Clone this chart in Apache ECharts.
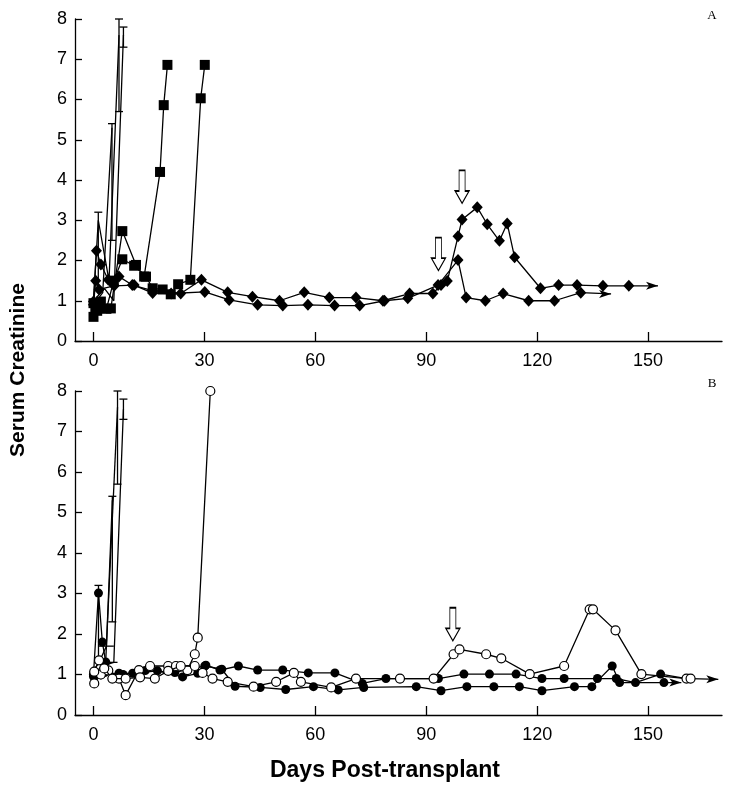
<!DOCTYPE html>
<html><head><meta charset="utf-8">
<script src="https://cdn.jsdelivr.net/npm/echarts@6/dist/echarts.min.js"></script>
<style>html,body{margin:0;padding:0;background:#fff}#c{width:732px;height:785px}</style>
</head><body><div id="c"></div>
<script>
// ---------- data (days, serum creatinine) ----------
const xTicks = [0, 30, 60, 90, 120, 150];
const yTicks = [0, 1, 2, 3, 4, 5, 6, 7, 8];

// Panel A
const sqA1 = [[0,0.6],[0.5,0.77],[2,0.98],[4.7,0.81],[7.8,2.73],[11.5,1.89],[13.7,1.6],[18,4.2],[19,5.86],[20,6.86]];
const sqA2 = [[0,0.94],[1,0.75],[3.5,0.8],[5.5,1.5],[7.8,2.03],[11,1.87],[14.2,1.6],[16,1.31],[18.7,1.28],[20.9,1.16],[22.9,1.41],[26.2,1.52],[29,6.03],[30.1,6.86]];
const dmA1 = [[0,0.98],[0.8,2.24],[2,1.9],[4,1.52],[6.9,1.6],[10.5,1.39],[16,1.25],[23.6,1.18],[29.2,1.52],[36.3,1.21],[43,1.1],[50.3,1.0],[57,1.21],[63.8,1.08],[71,1.08],[78.3,1.0],[85.5,1.18],[91.8,1.18],[94,1.39],[95.7,1.49],[98.6,2.6],[99.7,3.02],[103.8,3.32],[106.5,2.9],[109.8,2.49],[111.9,2.92],[113.9,2.08],[120.9,1.31],[125.8,1.39],[130.8,1.39],[137.8,1.37],[144.8,1.37]];
const dmA1End = [152.7,1.37];
const dmA2 = [[0,0.9],[0.6,1.5],[1.5,1.28],[5.6,1.37],[11,1.39],[16,1.19],[21,1.18],[30.1,1.22],[36.7,1.02],[44.4,0.9],[51.2,0.88],[58,0.9],[65.2,0.88],[72,0.88],[78.7,1.0],[85,1.06],[93.2,1.39],[98.6,2.01],[100.8,1.08],[106,1.0],[110.8,1.18],[117.7,1.0],[124.7,1.0],[131.8,1.2]];
const dmA2End = [140,1.17];
const rejA1 = [[0,1.0],[1.3,3.0],[4.2,1.5],[6.9,7.6]];
const rejA2 = [[0,0.9],[2.5,1.2],[5.0,5.3]];
const rejA3 = [[0,1.0],[3,1.3],[5.5,1.0],[8.1,7.6]];
const errA = [[1.3,1.3,3.2],[5.0,2.5,5.4],[6.9,5.7,8.0],[8.1,7.3,7.8]];
const arrowsA = [[99.7,3.83],[93.3,2.16]];

// Panel B
const rejB1 = [[0,1.0],[1.35,3.01],[2.4,1.8],[3.3,1.31]];
const rejB1Rise = [[3.3,1.31],[6.5,7.6]];
const rejB2 = [[0,1.1],[1.5,1.3],[3.5,1.7],[5.1,5.3]];
const rejB3 = [[0,0.95],[2,1.2],[5.5,1.3],[8.1,7.55]];
const errB = [[1.35,1.3,3.2],[5.1,2.3,5.4],[6.5,5.7,8.0],[8.1,7.3,7.8]];
const capsB = [[1.5,5.5,1.7],[1.5,6.5,1.3]];
const opB1 = [[0.2,1.07],[1.5,1.35],[2.9,1.15],[5.1,0.9],[8.7,0.9],[12.6,0.93],[16.6,0.9],[20.2,1.09],[23.6,1.21],[27.4,1.21],[29.5,1.04],[32.2,0.9],[36.3,0.82],[43.3,0.7],[49.4,0.82],[54.2,1.04],[56.1,0.82],[64.3,0.68],[71,0.9],[82.9,0.9],[92,0.9],[97.4,1.5],[99,1.62],[106.2,1.5],[110.3,1.4],[118,1.01],[127.3,1.21],[134.2,2.61],[135.1,2.61],[141.2,2.09],[148.2,1.01],[160.4,0.9],[161.5,0.9]];
const opB1End = [169,0.88];
const opB2 = [[0.2,0.78],[2,1.0],[4,1.1],[6.9,0.9],[8.7,0.49],[12.3,1.11],[15.3,1.21],[20.2,1.21],[22.3,1.21],[25.4,1.11],[27.4,1.5],[28.2,1.91],[31.6,8.0]];
const fB1 = [[0,0.95],[2,0.99],[6.9,1.03],[10.6,1.03],[17.3,1.09],[24.1,0.94],[28.2,1.03],[30.4,1.23],[34.2,1.11],[39.2,1.21],[44.4,1.11],[51.2,1.11],[58.1,1.04],[65.3,1.04],[72.7,0.78],[79.1,0.9],[93.3,0.9],[100.2,1.01],[107.1,1.01],[114.3,1.01],[121.3,0.9],[127.3,0.9],[136.3,0.9],[141.4,0.9],[146.6,0.8],[153.4,1.01],[160.4,0.9]];
const fB2 = [[0,1.0],[3,1.05],[8,1.0],[14,1.1],[22,1.05],[30.1,1.21],[34.7,1.13],[38.3,0.71],[45.1,0.68],[52,0.63],[59.5,0.7],[66.2,0.62],[73.1,0.68],[87.3,0.7],[94,0.6],[101,0.7],[108.3,0.7],[115.2,0.7],[121.3,0.6],[130.1,0.7],[134.8,0.7],[140.3,1.21],[142.3,0.8],[154.3,0.8]];
const fB2End = [159,0.8];
const arrowsB = [[97.2,2.24]];

// ---------- chart ----------
const FONT = '"Liberation Sans", Arial, Helvetica, sans-serif';
const LW = 1.3;
const ARROW = 'path://M0,0L12,4L0,8L3,4Z';
const DOWN = 'path://M4,0L10,0L10,20L14,20L7,32L0,20L4,20Z';

function withEnd(arr, end) {
  return arr.concat([{ value: end, symbol: ARROW, symbolSize: [12, 8], symbolOffset: [-6, 0],
    itemStyle: { color: '#000', borderWidth: 0 } }]);
}
function lineS(idx, data, symbol, size, fill) {
  return { type: 'line', xAxisIndex: idx, yAxisIndex: idx, data: data, symbol: symbol, symbolSize: size,
    showSymbol: true, animation: false, z: 3,
    lineStyle: { color: '#000', width: LW },
    itemStyle: { color: fill, borderColor: '#000', borderWidth: fill === '#fff' ? 1.2 : 0 } };
}
function plainLine(idx, data) {
  return { type: 'line', xAxisIndex: idx, yAxisIndex: idx, data: data, symbol: 'none', animation: false, z: 2,
    lineStyle: { color: '#000', width: LW } };
}
function errS(idx, data) {
  return { type: 'custom', xAxisIndex: idx, yAxisIndex: idx, data: data, animation: false, z: 2,
    encode: { x: 0, y: [1, 2] },
    renderItem: function (params, api) {
      const x = api.value(0);
      const lo = api.coord([x, api.value(1)]);
      const hi = api.coord([x, api.value(2)]);
      const w = 4;
      const st = { stroke: '#000', lineWidth: LW };
      return { type: 'group', children: [
        { type: 'line', shape: { x1: lo[0], y1: lo[1], x2: hi[0], y2: hi[1] }, style: st },
        { type: 'line', shape: { x1: hi[0] - w, y1: hi[1], x2: hi[0] + w, y2: hi[1] }, style: st },
        { type: 'line', shape: { x1: lo[0] - w, y1: lo[1], x2: lo[0] + w, y2: lo[1] }, style: st }
      ] };
    } };
}
function capS(idx, data) {
  return { type: 'custom', xAxisIndex: idx, yAxisIndex: idx, data: data, animation: false, z: 2,
    encode: { x: [0, 1], y: 2 },
    renderItem: function (params, api) {
      const a = api.coord([api.value(0), api.value(2)]);
      const b = api.coord([api.value(1), api.value(2)]);
      return { type: 'line', shape: { x1: a[0], y1: a[1], x2: b[0], y2: b[1] }, style: { stroke: '#000', lineWidth: LW } };
    } };
}
function markArrows(coords) {
  return { symbol: DOWN, symbolSize: [14, 33], animation: false, silent: true,
    itemStyle: { color: '#fff', borderColor: '#000', borderWidth: 1.2 }, label: { show: false },
    data: coords.map(c => ({ coord: c })) };
}
function xAx(idx) {
  return { type: 'value', gridIndex: idx, min: -5, max: 170,
    axisLine: { show: true, onZero: false, lineStyle: { color: '#000', width: LW } },
    axisTick: { show: true, inside: true, length: 9, customValues: xTicks, lineStyle: { color: '#000', width: LW } },
    axisLabel: { customValues: xTicks, color: '#000', fontSize: 18, fontFamily: FONT, margin: 11 },
    splitLine: { show: false } };
}
function yAx(idx) {
  return { type: 'value', gridIndex: idx, min: 0, max: 8, interval: 1,
    axisLine: { show: true, onZero: false, lineStyle: { color: '#000', width: LW } },
    axisTick: { show: true, inside: true, length: 7, lineStyle: { color: '#000', width: LW } },
    axisLabel: { color: '#000', fontSize: 18, fontFamily: FONT, margin: 8,
      formatter: v => (yTicks.indexOf(v) >= 0 ? String(v) : '') },
    splitLine: { show: false } };
}

const sA1 = lineS(0, withEnd(dmA1, dmA1End), 'diamond', [11, 12], '#000');
sA1.markPoint = markArrows(arrowsA);
const sB1 = lineS(1, withEnd(opB1, opB1End), 'circle', 9, '#fff');
sB1.markPoint = markArrows(arrowsB);
sB1.z = 4;

const option = {
  backgroundColor: '#fff',
  grid: [
    { left: 75, top: 19, width: 647, height: 322 },
    { left: 75, top: 391, width: 647, height: 324 }
  ],
  xAxis: [xAx(0), xAx(1)],
  yAxis: [yAx(0), yAx(1)],
  series: [
    plainLine(0, rejA1), plainLine(0, rejA2), plainLine(0, rejA3), errS(0, errA),
    lineS(0, sqA1, 'rect', 10, '#000'),
    lineS(0, sqA2, 'rect', 10, '#000'),
    sA1,
    lineS(0, withEnd(dmA2, dmA2End), 'diamond', [11, 12], '#000'),
    plainLine(1, rejB1Rise), plainLine(1, rejB2), plainLine(1, rejB3), errS(1, errB), capS(1, capsB),
    lineS(1, rejB1, 'circle', 9, '#000'),
    lineS(1, fB1, 'circle', 9, '#000'),
    lineS(1, withEnd(fB2, fB2End), 'circle', 9, '#000'),
    lineS(1, opB2, 'circle', 9, '#fff'),
    sB1
  ],
  graphic: [
    { type: 'text', x: 18, y: 370, rotation: Math.PI / 2,
      style: { text: 'Serum Creatinine', font: 'bold 21px ' + FONT, fill: '#000', textAlign: 'center', textVerticalAlign: 'middle' } },
    { type: 'text', x: 385, y: 771,
      style: { text: 'Days Post-transplant', font: 'bold 23px ' + FONT, fill: '#000', textAlign: 'center', textVerticalAlign: 'middle' } },
    { type: 'text', x: 712, y: 16,
      style: { text: 'A', font: '13px "Liberation Serif", "DejaVu Serif", serif', fill: '#000', textAlign: 'center', textVerticalAlign: 'middle' } },
    { type: 'text', x: 712, y: 384,
      style: { text: 'B', font: '13px "Liberation Serif", "DejaVu Serif", serif', fill: '#000', textAlign: 'center', textVerticalAlign: 'middle' } }
  ]
};
const chart = echarts.init(document.getElementById('c'), null, { renderer: 'canvas' });
chart.setOption(option);
</script></body></html>
